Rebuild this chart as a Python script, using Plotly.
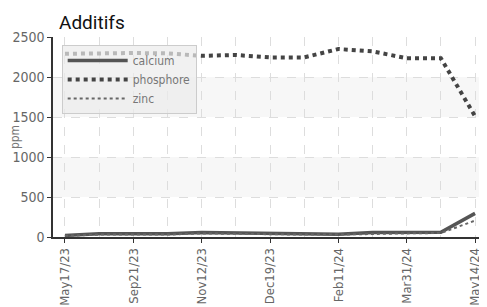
import plotly.graph_objects as go

dates = ["May17/23", "Jul15/23", "Sep21/23", "Oct18/23", "Nov12/23", "Nov28/23",
         "Dec19/23", "Jan15/24", "Feb11/24", "Mar05/24", "Mar31/24", "Apr20/24", "May14/24"]
calcium = [20, 40, 40, 40, 55, 50, 35, 35, 35, 55, 60, 60, 295]
phosphore = [2290, 2300, 2300, 2295, 2265, 2275, 2245, 2245, 2350, 2320, 2235, 2235, 1510]
zinc = [15, 30, 30, 30, 45, 40, 30, 30, 30, 40, 45, 50, 205]
tick_labels = ["May17/23", "Sep21/23", "Nov12/23", "Dec19/23", "Feb11/24", "Mar31/24", "May14/24"]
y_ticks = [0, 500, 1000, 1500, 2000, 2500]

NARROW = "Liberation Sans Narrow, DejaVu Sans Condensed, Roboto, sans-serif"

fig = go.Figure()
xs = list(range(len(dates)))
fig.add_trace(go.Scatter(x=xs, y=calcium, name="calcium", mode="lines",
                         line=dict(color="#555555", width=3.5)))
fig.add_trace(go.Scatter(x=xs, y=phosphore, name="phosphore", mode="lines",
                         line=dict(color="#444444", width=4, dash="dot")))
fig.add_trace(go.Scatter(x=xs, y=zinc, name="zinc", mode="lines",
                         line=dict(color="#666666", width=2, dash="dot")))

# alternating bands
for lo, hi in [(500, 1000), (1500, 2000)]:
    fig.add_shape(type="rect", xref="paper", yref="y", x0=0, x1=1, y0=lo, y1=hi,
                  fillcolor="#f7f7f7", line_width=0, layer="below")

tickvals = [dates.index(t) for t in tick_labels]
fig.update_layout(
    width=479, height=299,
    margin=dict(l=45, r=0, t=29, b=70),
    paper_bgcolor="white", plot_bgcolor="white",
    title=dict(text="Additifs", x=0, xref="paper", xanchor="left", y=0.975, yanchor="top",
               font=dict(family="Roboto, sans-serif", size=19, color="#111111"), pad=dict(l=6)),
    font=dict(family=NARROW, color="#666666", size=13),
    showlegend=True,
    legend=dict(x=0.02, y=0.96, xanchor="left", yanchor="top",
                bgcolor="rgba(235,235,235,0.7)", bordercolor="#cccccc", borderwidth=1,
                font=dict(family=NARROW, size=12, color="#777777"), tracegroupgap=0, itemwidth=60),
)
fig.update_xaxes(range=[-0.35, 12.35], tickmode="array", tickvals=tickvals, ticktext=tick_labels,
                 tickangle=-90, showline=True, linecolor="#333333", linewidth=1.5,
                 ticks="outside", ticklen=4, tickcolor="#333333", automargin=False,
                 showgrid=True, gridcolor="#dddddd", griddash="dash", gridwidth=1,
                 zeroline=False, tickfont=dict(family=NARROW, size=13, color="#666666"))
fig.update_xaxes(minor=dict(tickmode="array", tickvals=[i for i in xs if i not in tickvals],
                            showgrid=True, gridcolor="#dddddd", griddash="dash", ticks=""))
fig.update_yaxes(range=[0, 2500], tickvals=y_ticks, showline=True, linecolor="#333333", linewidth=1.5,
                 ticks="outside", ticklen=4, tickcolor="#333333", automargin=False,
                 showgrid=True, gridcolor="#dddddd", griddash="dash", zeroline=False,
                 title=dict(text="ppm", font=dict(family=NARROW, size=12, color="#777777"), standoff=4),
                 tickfont=dict(family=NARROW, size=14, color="#666666"))

fig.write_html("out.html")
